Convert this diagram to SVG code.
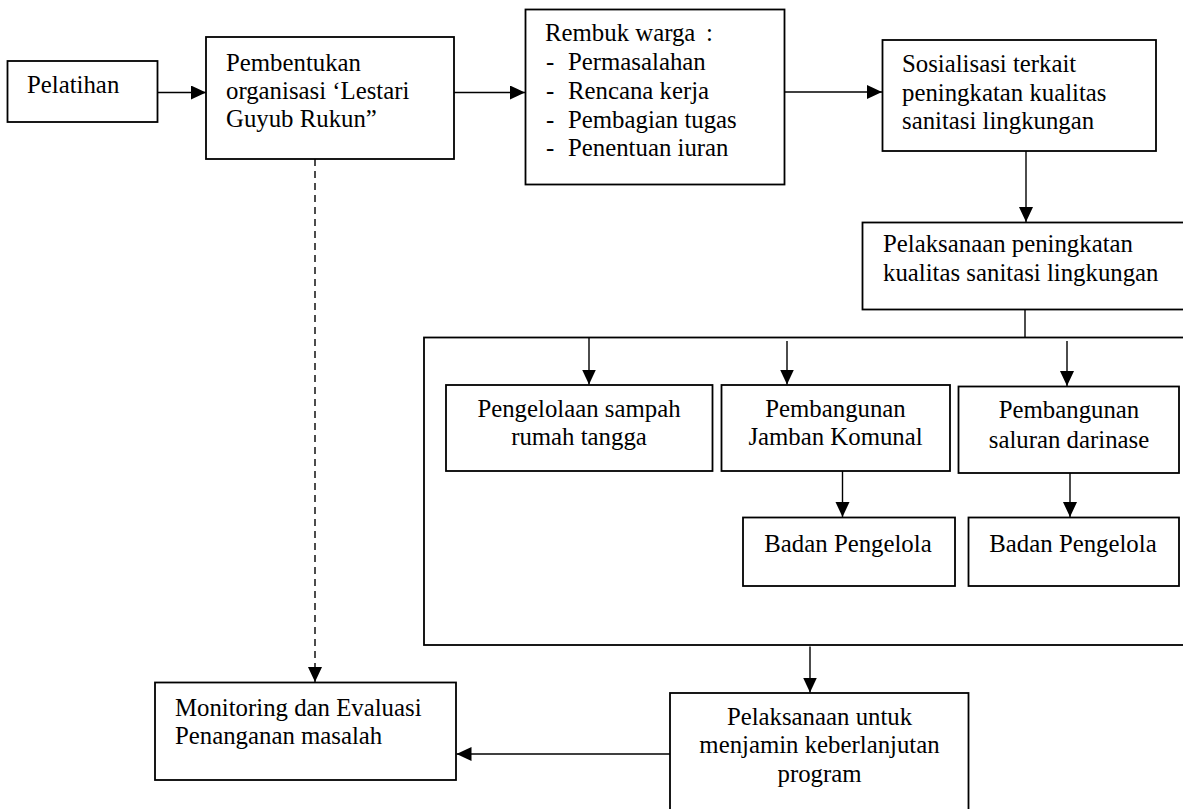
<svg xmlns="http://www.w3.org/2000/svg" width="1183" height="809" viewBox="0 0 1183 809">
<style>
  .box { fill: #ffffff; stroke: #000000; stroke-width: 1.8; }
  .t { font-family: "Liberation Serif", "Times New Roman", serif; font-size: 24.8px; fill: #000000; }
  .c { text-anchor: middle; }
  .ln { stroke: #000000; stroke-width: 1.4; fill: none; }
  .dash { stroke-dasharray: 7 5; }
</style>
<defs>
  <marker id="ah" markerUnits="userSpaceOnUse" markerWidth="16" markerHeight="15" refX="15" refY="7" orient="auto">
    <path d="M0,0 L15,7 L0,14 z" fill="#000000"/>
  </marker>
</defs>
<rect x="0" y="0" width="1183" height="809" fill="#ffffff"/>

<g id="connectors">
  <line class="ln" x1="157" y1="92.5" x2="206" y2="92.5" marker-end="url(#ah)"/>
  <line class="ln" x1="454" y1="92.5" x2="525" y2="92.5" marker-end="url(#ah)"/>
  <line class="ln" x1="785" y1="92" x2="882" y2="92" marker-end="url(#ah)"/>
  <line class="ln" x1="1026" y1="151" x2="1026" y2="222" marker-end="url(#ah)"/>
  <line class="ln" x1="1025" y1="309" x2="1025" y2="337.5"/>
  <line class="ln" x1="589" y1="337.5" x2="589" y2="384.5" marker-end="url(#ah)"/>
  <line class="ln" x1="787" y1="341" x2="787" y2="384.5" marker-end="url(#ah)"/>
  <line class="ln" x1="1067" y1="341" x2="1067" y2="386" marker-end="url(#ah)"/>
  <line class="ln" x1="842.5" y1="471" x2="842.5" y2="517" marker-end="url(#ah)"/>
  <line class="ln" x1="1070" y1="473" x2="1070" y2="517" marker-end="url(#ah)"/>
  <line class="ln" x1="810" y1="646.5" x2="810" y2="692.5" marker-end="url(#ah)"/>
  <line class="ln" x1="670" y1="754" x2="456.5" y2="754" marker-end="url(#ah)"/>
  <line class="ln dash" x1="315" y1="159" x2="315" y2="682" marker-end="url(#ah)"/>
</g>

<g id="n-pelatihan">
  <rect class="box" x="7.5" y="61" width="150" height="61"/>
  <text class="t" x="27" y="93.3">Pelatihan</text>
</g>

<g id="n-pembentukan">
  <rect class="box" x="206" y="37" width="248" height="122"/>
  <text class="t" x="226" y="70.5">Pembentukan</text>
  <text class="t" x="226" y="99">organisasi ‘Lestari</text>
  <text class="t" x="226" y="127">Guyub Rukun”</text>
</g>

<g id="n-rembuk">
  <rect class="box" x="525.5" y="9.5" width="259" height="175"/>
  <text class="t" x="545" y="41">Rembuk warga<tspan x="706">:</tspan></text>
  <text class="t" x="546" y="69.5">-<tspan x="568">Permasalahan</tspan></text>
  <text class="t" x="546" y="98.5">-<tspan x="568">Rencana kerja</tspan></text>
  <text class="t" x="546" y="127.5">-<tspan x="568">Pembagian tugas</tspan></text>
  <text class="t" x="546" y="156">-<tspan x="568">Penentuan iuran</tspan></text>
</g>

<g id="n-sosialisasi">
  <rect class="box" x="882.5" y="40" width="273.5" height="111"/>
  <text class="t" x="902" y="72">Sosialisasi terkait</text>
  <text class="t" x="902" y="100.5">peningkatan kualitas</text>
  <text class="t" x="902" y="129">sanitasi lingkungan</text>
</g>

<g id="n-pelaksanaan">
  <rect class="box" x="862.5" y="222.5" width="340" height="87"/>
  <text class="t" x="883" y="252">Pelaksanaan peningkatan</text>
  <text class="t" x="883" y="281">kualitas sanitasi lingkungan</text>
</g>

<g id="n-container">
  <rect class="box" x="424" y="337.5" width="800" height="307.5" style="fill:none"/>
</g>

<g id="n-sampah">
  <rect class="box" x="446" y="385" width="266.5" height="86"/>
  <text class="t c" x="579" y="416.7">Pengelolaan sampah</text>
  <text class="t c" x="579" y="445">rumah tangga</text>
</g>

<g id="n-jamban">
  <rect class="box" x="721.5" y="385" width="228.5" height="86"/>
  <text class="t c" x="835.5" y="416.7">Pembangunan</text>
  <text class="t c" x="835.5" y="445">Jamban Komunal</text>
</g>

<g id="n-saluran">
  <rect class="box" x="958.5" y="386.5" width="220.5" height="86.5"/>
  <text class="t c" x="1069" y="417.7">Pembangunan</text>
  <text class="t c" x="1069" y="447.5">saluran darinase</text>
</g>

<g id="n-badan1">
  <rect class="box" x="743" y="517.5" width="212" height="68.5"/>
  <text class="t c" x="848" y="551.7">Badan Pengelola</text>
</g>

<g id="n-badan2">
  <rect class="box" x="968.5" y="517.5" width="210.5" height="68.5"/>
  <text class="t c" x="1073" y="551.7">Badan Pengelola</text>
</g>

<g id="n-keberlanjutan">
  <rect class="box" x="670" y="693" width="298.5" height="140"/>
  <text class="t c" x="819.5" y="725">Pelaksanaan untuk</text>
  <text class="t c" x="819.5" y="753.3">menjamin keberlanjutan</text>
  <text class="t c" x="819.5" y="781.5">program</text>
</g>

<g id="n-monitoring">
  <rect class="box" x="155" y="682.5" width="301" height="97.5"/>
  <text class="t" x="175" y="715.5">Monitoring dan Evaluasi</text>
  <text class="t" x="175" y="743.5">Penanganan masalah</text>
</g>
</svg>
